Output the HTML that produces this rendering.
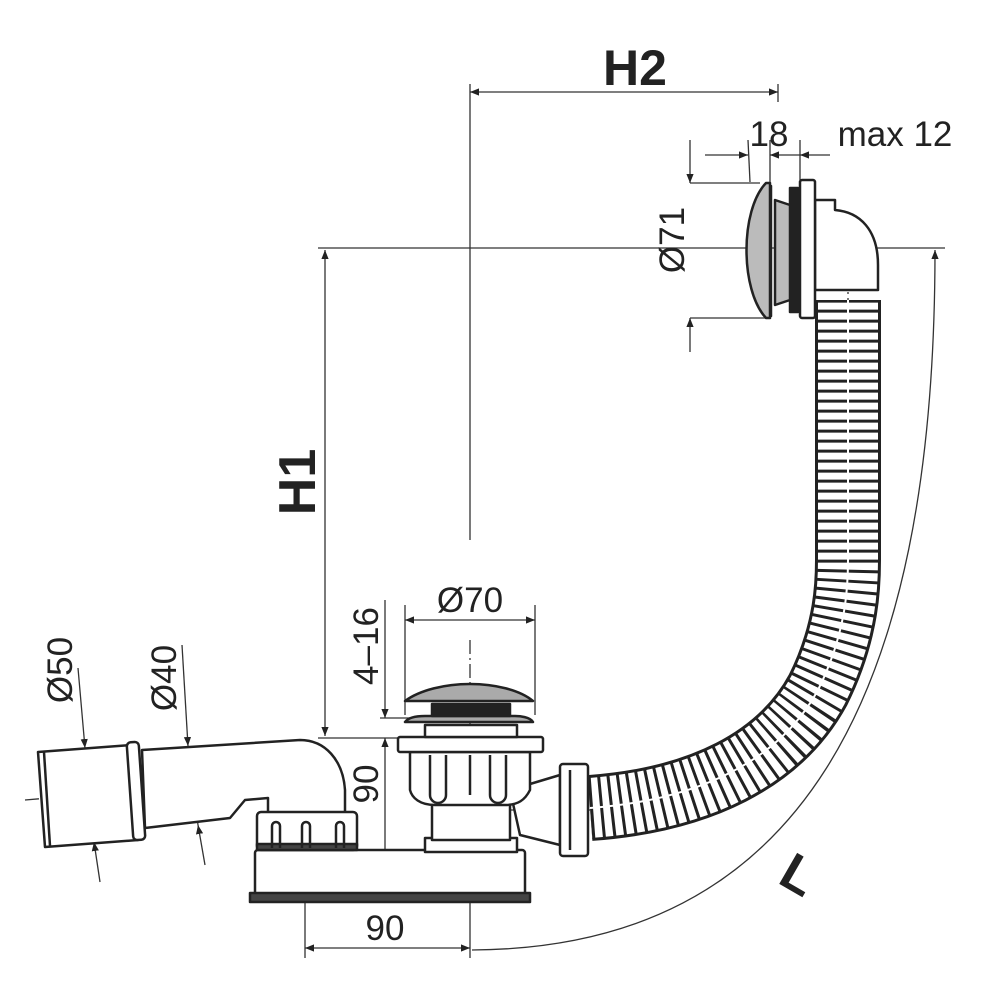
<!DOCTYPE html>
<html><head><meta charset="utf-8"><style>
html,body{margin:0;padding:0;background:#fff}
svg{display:block}
text{font-family:"Liberation Sans",sans-serif;fill:#222}
</style></head><body>
<svg width="1000" height="1000" viewBox="0 0 1000 1000" xmlns="http://www.w3.org/2000/svg">
<defs>
<marker id="a" viewBox="0 0 10 10" refX="10" refY="5" markerWidth="9" markerHeight="9" orient="auto-start-reverse" markerUnits="userSpaceOnUse"><path d="M0,1 L10,5 L0,9z" fill="#222"/></marker>
</defs>
<g stroke="#333" stroke-width="1.3" fill="none">
<line x1="470" y1="84" x2="470" y2="540"/>
<line x1="778" y1="84" x2="778" y2="102"/>
<line x1="318" y1="248" x2="945" y2="248"/>
<line x1="690" y1="183" x2="760" y2="183"/>
<line x1="690" y1="318" x2="770" y2="318"/>
<line x1="405" y1="605" x2="405" y2="715"/>
<line x1="535" y1="605" x2="535" y2="715"/>
<line x1="380" y1="718" x2="410" y2="718"/>
<line x1="318" y1="738" x2="400" y2="738"/>
<line x1="305" y1="895" x2="305" y2="958"/>
<line x1="470" y1="895" x2="470" y2="958"/>
<line x1="748" y1="140" x2="750" y2="182"/>
<line x1="770" y1="140" x2="770" y2="182"/>
<line x1="800" y1="140" x2="800" y2="180"/>
<line x1="470" y1="92" x2="778" y2="92" marker-start="url(#a)" marker-end="url(#a)"/>
<line x1="705" y1="155" x2="748" y2="155" marker-end="url(#a)"/>
<line x1="770" y1="155" x2="800" y2="155" marker-start="url(#a)"/>
<line x1="830" y1="155" x2="800" y2="155" marker-end="url(#a)"/>
<line x1="690" y1="140" x2="690" y2="183" marker-end="url(#a)"/>
<line x1="690" y1="352" x2="690" y2="318" marker-end="url(#a)"/>
<line x1="325" y1="250" x2="325" y2="736" marker-start="url(#a)" marker-end="url(#a)"/>
<line x1="405" y1="620" x2="535" y2="620" marker-start="url(#a)" marker-end="url(#a)"/>
<line x1="385" y1="600" x2="385" y2="718" marker-end="url(#a)"/>
<line x1="385" y1="738" x2="385" y2="900" marker-start="url(#a)" marker-end="url(#a)"/>
<line x1="305" y1="948" x2="470" y2="948" marker-start="url(#a)" marker-end="url(#a)"/>
<path d="M935,250 C935,700 800,948 472,950" marker-start="url(#a)"/>
<line x1="78" y1="668" x2="85" y2="748" marker-end="url(#a)"/>
<line x1="100" y1="882" x2="94" y2="842" marker-end="url(#a)"/>
<line x1="182" y1="645" x2="188" y2="746" marker-end="url(#a)"/>
<line x1="205" y1="865" x2="198" y2="825" marker-end="url(#a)"/>
<line x1="85" y1="748" x2="94" y2="842"/>
<line x1="188" y1="746" x2="198" y2="825"/>
<g stroke-dasharray="14 4 2 4">
<line x1="25" y1="800" x2="320" y2="775"/>
<line x1="305" y1="770" x2="305" y2="895"/>
<line x1="470" y1="640" x2="470" y2="900"/>
<line x1="505" y1="810" x2="610" y2="810"/>
<line x1="815" y1="248" x2="850" y2="248"/>
<line x1="848" y1="250" x2="848" y2="320"/>
</g>
</g>
<g fill="none">
<path d="M590,808 C700,800 780,760 818,690 C848,630 848,580 848,560 L848,300" stroke="#222" stroke-width="66"/>
<path d="M590,808 C700,800 780,760 818,690 C848,630 848,580 848,560 L848,300" stroke="#fff" stroke-width="60"/>
<path d="M590,808 C700,800 780,760 818,690 C848,630 848,580 848,560 L848,300" stroke="#222" stroke-width="62" stroke-dasharray="3 7"/>
<path d="M590,808 C700,800 780,760 818,690 C848,630 848,580 848,560 L848,300" stroke="#fff" stroke-width="2"/>
</g>
<g stroke="#222" stroke-width="2.5" fill="#fff" stroke-linejoin="round">
<path d="M815,290 L878,290 L878,265 C878,230 860,212 835,210 L835,200 L815,200z"/>
<rect x="800" y="180" width="15" height="138" rx="2"/>
<rect x="790" y="188" width="8" height="124" fill="#222"/>
<path d="M775,200 L790,205 L790,300 L775,305z" fill="#bbb"/>
<rect x="765" y="186" width="6" height="130" fill="#222"/>
<path d="M766,183 C740,210 740,290 766,318 L770,318 L770,183z" fill="#bbb"/>
<path d="M142,750 L300,740 C325,740 343,760 345,790 L345,815 L268,815 L268,798 L245,800 L230,818 L145,828z"/>
<path d="M38,752 L132,745 L138,840 L45,847z"/>
<rect x="130" y="742" width="12" height="98" rx="4" transform="rotate(-4 136 791)"/>
<line x1="44" y1="752" x2="50" y2="846"/>
<rect x="255" y="850" width="270" height="45" rx="3"/>
<rect x="250" y="893" width="280" height="9" fill="#444"/>
<rect x="257" y="812" width="100" height="38" rx="4"/>
<rect x="257" y="844" width="100" height="6" fill="#444"/>
<path d="M272,848 V826 a4,4 0 0 1 8,0 V848 M302,848 V826 a4,4 0 0 1 8,0 V848 M336,848 V826 a4,4 0 0 1 8,0 V848" fill="none"/>
<path d="M510,790 L560,775 L560,845 L520,835z"/>
<rect x="560" y="764" width="28" height="92" rx="3"/>
<line x1="570" y1="770" x2="570" y2="850"/>
<rect x="425" y="838" width="92" height="14"/>
<rect x="432" y="790" width="78" height="50"/>
<path d="M410,752 L530,752 L530,790 C525,800 518,805 505,805 L435,805 C420,805 412,798 410,790z"/>
<path d="M430,755 V795 a8,8 0 0 0 16,0 V755 M470,755 V795 M490,755 V795 a8,8 0 0 0 16,0 V755" fill="none"/>
<rect x="398" y="737" width="145" height="15" rx="2"/>
<rect x="425" y="725" width="92" height="12"/>
<path d="M405,722 L533,722 C530,717 520,716 515,716 L425,716 C415,716 408,718 405,722z" fill="#aaa"/>
<rect x="432" y="704" width="78" height="12" fill="#222"/>
<path d="M405,701 C420,690 445,684 470,684 C495,684 520,690 533,701z" fill="#aaa"/>
</g>
<text x="635" y="85" font-size="50" font-weight="bold" text-anchor="middle">H2</text>
<text x="769" y="146" font-size="35" text-anchor="middle">18</text>
<text x="895" y="146" font-size="35" text-anchor="middle">max 12</text>
<text x="470" y="612" font-size="35" text-anchor="middle">Ø70</text>
<text x="385" y="940" font-size="35" text-anchor="middle">90</text>
<text transform="translate(684,240) rotate(-90)" font-size="35" text-anchor="middle">Ø71</text>
<text transform="translate(315,482) rotate(-90)" font-size="52" font-weight="bold" text-anchor="middle">H1</text>
<text transform="translate(378,646) rotate(-90)" font-size="35" text-anchor="middle">4–16</text>
<text transform="translate(378,784) rotate(-90)" font-size="35" text-anchor="middle">90</text>
<text transform="translate(72,670) rotate(-90)" font-size="35" text-anchor="middle">Ø50</text>
<text transform="translate(176,678) rotate(-90)" font-size="35" text-anchor="middle">Ø40</text>
<text transform="translate(790,890) rotate(30)" font-size="52" font-weight="bold" text-anchor="middle">L</text>
</svg>
</body></html>
